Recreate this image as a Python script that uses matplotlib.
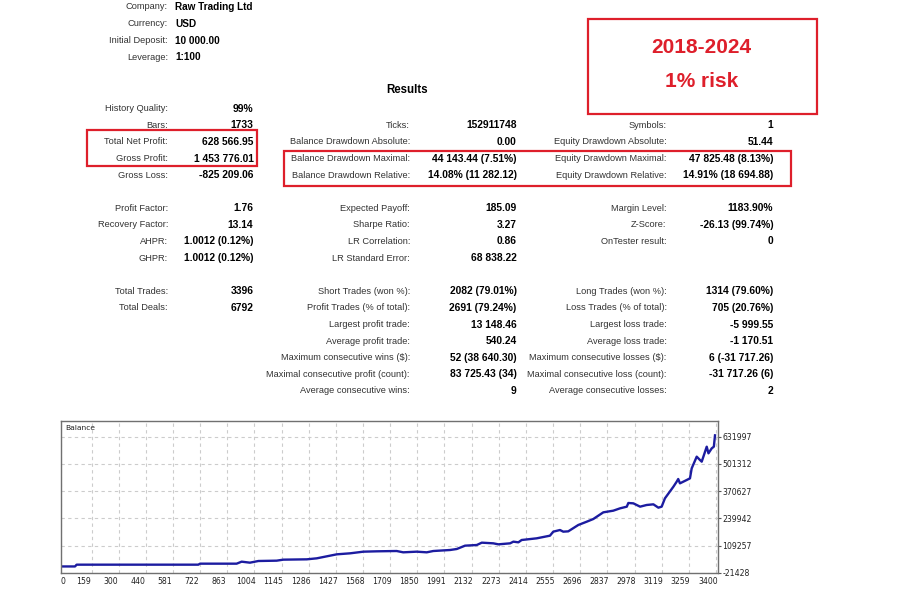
import matplotlib
matplotlib.use("Agg")
import matplotlib.pyplot as plt
from matplotlib.patches import Rectangle
from matplotlib.transforms import ScaledTranslation

# ---------------- data ----------------
header_labels = ["Company:", "Currency:", "Initial Deposit:", "Leverage:"]
header_values = ["Raw Trading Ltd", "USD", "10 000.00", "1:100"]

col1_rows = [0, 1, 2, 3, 4, 6, 7, 8, 9, 11, 12]
col1_labels = ["History Quality:", "Bars:", "Total Net Profit:", "Gross Profit:", "Gross Loss:",
               "Profit Factor:", "Recovery Factor:", "AHPR:", "GHPR:", "Total Trades:", "Total Deals:"]
col1_values = ["99%", "1733", "628 566.95", "1 453 776.01", "-825 209.06",
               "1.76", "13.14", "1.0012 (0.12%)", "1.0012 (0.12%)", "3396", "6792"]

col2_rows = [1, 2, 3, 4, 6, 7, 8, 9, 11, 12, 13, 14, 15, 16, 17]
col2_labels = ["Ticks:", "Balance Drawdown Absolute:", "Balance Drawdown Maximal:",
               "Balance Drawdown Relative:", "Expected Payoff:", "Sharpe Ratio:", "LR Correlation:",
               "LR Standard Error:", "Short Trades (won %):", "Profit Trades (% of total):",
               "Largest profit trade:", "Average profit trade:", "Maximum consecutive wins ($):",
               "Maximal consecutive profit (count):", "Average consecutive wins:"]
col2_values = ["152911748", "0.00", "44 143.44 (7.51%)", "14.08% (11 282.12)", "185.09", "3.27",
               "0.86", "68 838.22", "2082 (79.01%)", "2691 (79.24%)", "13 148.46", "540.24",
               "52 (38 640.30)", "83 725.43 (34)", "9"]

col3_rows = [1, 2, 3, 4, 6, 7, 8, 11, 12, 13, 14, 15, 16, 17]
col3_labels = ["Symbols:", "Equity Drawdown Absolute:", "Equity Drawdown Maximal:",
               "Equity Drawdown Relative:", "Margin Level:", "Z-Score:", "OnTester result:",
               "Long Trades (won %):", "Loss Trades (% of total):", "Largest loss trade:",
               "Average loss trade:", "Maximum consecutive losses ($):",
               "Maximal consecutive loss (count):", "Average consecutive losses:"]
col3_values = ["1", "51.44", "47 825.48 (8.13%)", "14.91% (18 694.88)", "1183.90%",
               "-26.13 (99.74%)", "0", "1314 (79.60%)", "705 (20.76%)", "-5 999.55",
               "-1 170.51", "6 (-31 717.26)", "-31 717.26 (6)", "2"]

note_lines = ["2018-2024", "1% risk"]

trade_n = [0, 73, 81, 713, 722, 912, 938, 981, 1025, 1120,
           1154, 1276, 1328, 1380, 1432, 1501, 1570, 1639, 1743, 1777,
           1847, 1899, 1933, 2020, 2055, 2098, 2159, 2185, 2245, 2271,
           2332, 2349, 2375, 2392, 2470, 2539, 2556, 2591, 2608, 2634,
           2686, 2730, 2764, 2816, 2868, 2903, 2938, 2946, 2972, 3007,
           3041, 3076, 3102, 3119, 3136, 3180, 3197, 3205, 3214, 3249,
           3266, 3275, 3301, 3318, 3327, 3353, 3362, 3379, 3390, 3396]
balance = [10000, 10000, 18500, 18500, 23300, 23300, 32900, 28100, 36100, 37700,
           42500, 44100, 48900, 58500, 68100, 72900, 80800, 82500, 84000, 77700,
           80800, 77700, 84000, 88800, 93600, 109600, 112800, 124000, 120800, 116000,
           120800, 128800, 125600, 136800, 144800, 157500, 176700, 184700, 176700, 178300,
           208700, 224600, 237400, 269400, 277400, 288600, 296600, 314200, 312500, 296600,
           304600, 307800, 291800, 296600, 336500, 392400, 416400, 429200, 408400, 424400,
           432400, 480300, 536300, 520300, 512300, 584200, 552300, 576200, 584200, 638567]

x_ticks = [0, 159, 300, 440, 581, 722, 863, 1004, 1145, 1286, 1427, 1568, 1709, 1850,
           1991, 2132, 2273, 2414, 2555, 2696, 2837, 2978, 3119, 3259, 3400]
y_ticks = [-21428, 109257, 239942, 370627, 501312, 631997]

# ---------------- figure ----------------
W, H = 916, 600
fig = plt.figure(figsize=(W / 100, H / 100), dpi=100)
fig.patch.set_facecolor("white")

FONT = "Liberation Sans"
RED = "#de1f2b"
LBL = "#333333"

# chart axes
ax = fig.add_axes([61 / W, 1 - 573 / H, 656.7 / W, 152 / H])
ax.plot(trade_n, balance, color="#1c1ca0", lw=1.7, solid_joinstyle="round")
ax.set_xlim(0, 3410)
ax.set_ylim(-21428, 707300)
ax.set_xticks(x_ticks)
ax.set_xticklabels([str(v) for v in x_ticks], fontsize=5.6, family="DejaVu Sans", color="#222222")
ax.set_yticks(y_ticks)
ax.set_yticklabels([str(v) for v in y_ticks], fontsize=5.6, family="DejaVu Sans", color="#222222")
ax.yaxis.tick_right()
ax.tick_params(axis="y", length=2, pad=1.5, color="#555555", width=0.8)
ax.tick_params(axis="x", length=0, pad=3)
ax.grid(True, color="#cccccc", lw=0.8, linestyle=(0, (3, 3)))
for s in ax.spines.values():
    s.set_color("#707070")
    s.set_linewidth(1.0)
ax.text(0.006, 0.955, "Balance", transform=ax.transAxes, fontsize=5.4,
        family="DejaVu Sans", ha="left", va="center", color="#222222")
off = ScaledTranslation(-8 / 100, 0, fig.dpi_scale_trans)
off0 = ScaledTranslation(2 / 100, 0, fig.dpi_scale_trans)
labels = ax.get_xticklabels()
for i, lbl in enumerate(labels):
    lbl.set_transform(lbl.get_transform() + (off0 if i == 0 else off))

# overlay axes in pixel coordinates
ov = fig.add_axes([0, 0, 1, 1])
ov.set_xlim(0, W)
ov.set_ylim(H, 0)
ov.axis("off")
ov.patch.set_visible(False)

LS = 6.7   # label size
VS = 7.4   # value size

hy0, hdy = 6.7, 16.9
for i, (l, v) in enumerate(zip(header_labels, header_values)):
    y = hy0 + i * hdy
    ov.text(168, y, l, ha="right", va="center", fontsize=LS, family=FONT, color=LBL)
    ov.text(175, y, v, ha="left", va="center", fontsize=7.2, family=FONT, weight="bold", color="black")

ov.text(407, 90, "Results", ha="center", va="center", fontsize=8.3, family=FONT,
        weight="bold", color="black")

ry0, rdy = 108.7, 16.6
cols = [(col1_rows, col1_labels, col1_values, 168, 253.5),
        (col2_rows, col2_labels, col2_values, 410, 516.7),
        (col3_rows, col3_labels, col3_values, 666.7, 773.3)]
for rows, labs, vals, lx, vx in cols:
    for r, l, v in zip(rows, labs, vals):
        y = ry0 + r * rdy
        ov.text(lx, y, l, ha="right", va="center", fontsize=LS, family=FONT, color=LBL)
        ov.text(vx, y, v, ha="right", va="center", fontsize=VS, family=FONT,
                weight="bold", color="black")

# red highlight boxes
ov.add_patch(Rectangle((87.3, 130), 169.4, 35.7, fill=False, ec=RED, lw=1.6))
ov.add_patch(Rectangle((284.3, 151), 506.7, 35, fill=False, ec=RED, lw=1.6))
ov.add_patch(Rectangle((588.3, 19.3), 229, 95, fill=False, ec=RED, lw=1.6))
ov.text(701.7, 47.3, note_lines[0], ha="center", va="center", fontsize=15, family=FONT,
        weight="bold", color=RED)
ov.text(701.7, 81.7, note_lines[1], ha="center", va="center", fontsize=15, family=FONT,
        weight="bold", color=RED)

fig.savefig("out.png", dpi=100)
